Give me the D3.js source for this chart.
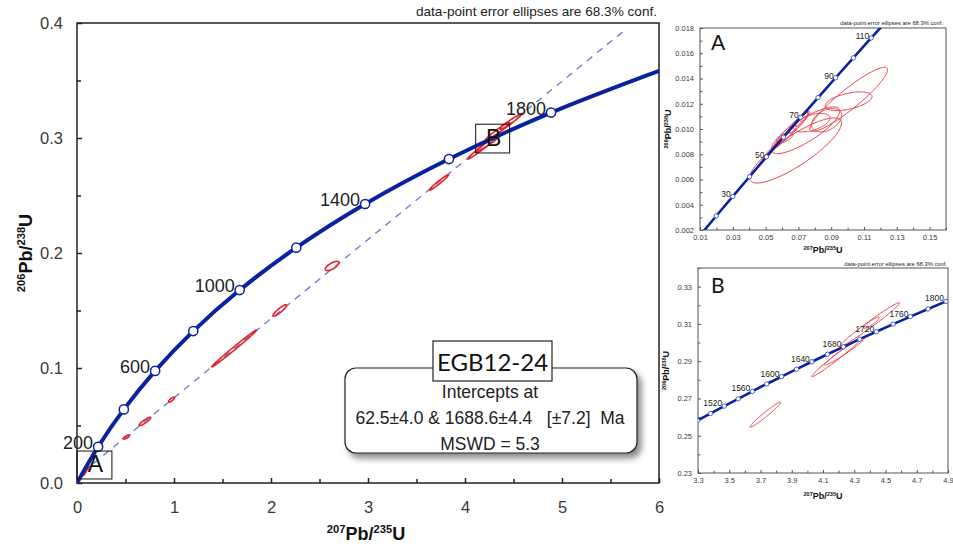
<!DOCTYPE html>
<html>
<head>
<meta charset="utf-8">
<script src="https://cdn.jsdelivr.net/npm/d3@7"></script>
<style>
  body { margin: 0; background: #fff; }
  svg { display: block; font-family: "Liberation Sans", Arial, sans-serif; }
</style>
</head>
<body>
<svg width="953" height="546"></svg>
<script>
// concordia ticks: age (Ma) and the two ratios
var mainAges = [0, 200, 400, 600, 800, 1000, 1200, 1400, 1600, 1800, 2000];
var main75 = [0, 0.2177, 0.4828, 0.8056, 1.1987, 1.6774, 2.2603, 2.9702, 3.8346, 4.8872, 6.1690];
var main68 = [0, 0.0315, 0.0640, 0.0975, 0.1321, 0.1678, 0.2046, 0.2426, 0.2817, 0.3221, 0.3637];
var mainLabelled = [200, 600, 1000, 1400, 1800];

var agesA = [10, 20, 30, 40, 50, 60, 70, 80, 90, 100, 110, 120, 130];
var a75 = [0.0099, 0.0199, 0.0300, 0.0402, 0.0505, 0.0609, 0.0714, 0.0820, 0.0927, 0.1035, 0.1144, 0.1255, 0.1366];
var a68 = [0.00155, 0.00311, 0.00466, 0.00622, 0.00779, 0.00935, 0.01092, 0.01249, 0.01406, 0.01563, 0.01721, 0.01879, 0.02037];
var labelledA = [30, 50, 70, 90, 110];

var agesB = [1460, 1480, 1500, 1520, 1540, 1560, 1580, 1600, 1620, 1640, 1660, 1680, 1700, 1720, 1740, 1760, 1780, 1800, 1820];
var b75 = [3.2111, 3.2955, 3.3810, 3.4681, 3.5570, 3.6477, 3.7401, 3.8346, 3.9306, 4.0287, 4.1287, 4.2307, 4.3348, 4.4409, 4.5491, 4.6595, 4.7721, 4.8872, 5.0040];
var b68 = [0.2542, 0.2581, 0.2620, 0.2659, 0.2698, 0.2738, 0.2778, 0.2817, 0.2857, 0.2897, 0.2937, 0.2977, 0.3018, 0.3058, 0.3099, 0.3139, 0.3180, 0.3221, 0.3262];
var labelledB = [1520, 1560, 1600, 1640, 1680, 1720, 1760, 1800];

// discordia: lower intercept and the far end of the dashed line
var discordia = [[0.0635, 0.0097], [5.65, 0.394]];

// error ellipses: [207/235, 206/238, half-width x, half-width y, rho]
var ellipsesYoung = [
  [0.0683, 0.0083, 0.0280, 0.00258, 0.84],
  [0.1007, 0.01235, 0.0237, 0.00254, 0.92],
  [0.1006, 0.0122, 0.0143, 0.00074, 0.5],
  [0.0872, 0.0107, 0.0092, 0.00093, 0.4],
  [0.0743, 0.0099, 0.0209, 0.00185, 0.82],
  [0.0780, 0.0105, 0.0112, 0.00073, 0.5],
  [0.0616, 0.0093, 0.0050, 0.00040, 0.6],
  [0.066, 0.0100, 0.010, 0.0013, 0.95],
  [0.070, 0.0105, 0.006, 0.0008, 0.9],
  [0.072, 0.0108, 0.004, 0.0006, 0.9],
  [0.062, 0.0094, 0.007, 0.0009, 0.95],
  [0.058, 0.0089, 0.004, 0.0005, 0.9],
  [0.074, 0.0110, 0.003, 0.0004, 0.8],
  [0.052, 0.0081, 0.004, 0.0006, 0.95]
];
var ellipsesMid = [
  [0.51, 0.040, 0.035, 0.0018, 0.8],
  [0.70, 0.0535, 0.06, 0.0037, 0.9],
  [0.975, 0.0725, 0.03, 0.0022, 0.8],
  [1.62, 0.117, 0.23, 0.016, 0.995],
  [2.09, 0.150, 0.07, 0.005, 0.9],
  [2.63, 0.1887, 0.07, 0.004, 0.7]
];
var ellipsesOld = [
  [3.731, 0.2613, 0.098, 0.0067, 0.975],
  [4.188, 0.2922, 0.16, 0.0105, 0.985],
  [4.24, 0.2954, 0.13, 0.0075, 0.975],
  [4.40, 0.3097, 0.19, 0.0117, 0.985],
  [4.41, 0.3106, 0.05, 0.0030, 0.9]
];

var mainXTicks = [0, 1, 2, 3, 4, 5, 6];
var mainYTicks = [0, 0.1, 0.2, 0.3, 0.4];
var aXTicks = [0.01, 0.03, 0.05, 0.07, 0.09, 0.11, 0.13, 0.15];
var aYTicks = [0.002, 0.004, 0.006, 0.008, 0.010, 0.012, 0.014, 0.016, 0.018];
var bXTicks = [3.3, 3.5, 3.7, 3.9, 4.1, 4.3, 4.5, 4.7, 4.9];
var bYTicks = [0.23, 0.25, 0.27, 0.29, 0.31, 0.33];

var sampleName = "EGB12-24";
var resultLines = ["Intercepts at", "62.5\u00b14.0 & 1688.6\u00b14.4   [\u00b17.2]  Ma", "MSWD = 5.3"];
var confNote = "data-point error ellipses are 68.3% conf.";

var svg = d3.select("svg");
var allEllipses = ellipsesYoung.concat(ellipsesMid, ellipsesOld);

var defs = svg.append("defs");
defs.append("filter").attr("id", "shadow")
    .attr("x", "-10%").attr("y", "-20%").attr("width", "130%").attr("height", "160%")
  .append("feDropShadow")
    .attr("dx", 4).attr("dy", 5).attr("stdDeviation", 3)
    .attr("flood-color", "#000").attr("flood-opacity", 0.45);

// outline of a correlated error ellipse
function ellipsePoints(e) {
  var pts = [], k = Math.sqrt(1 - e[4] * e[4]);
  for (var i = 0; i < 120; i++) {
    var t = 2 * Math.PI * i / 120;
    pts.push([e[0] + e[2] * Math.cos(t), e[1] + e[3] * (e[4] * Math.cos(t) + k * Math.sin(t))]);
  }
  return pts;
}

// writes 207Pb/235U style labels with raised mass numbers
function isoLabel(text, a, b, c, d, big, small) {
  var up = Math.round(big * 0.38);
  text.append("tspan").attr("font-size", small).attr("dy", -up).text(a);
  text.append("tspan").attr("font-size", big).attr("dy", up).text(b);
  text.append("tspan").attr("font-size", small).attr("dy", -up).text(c);
  text.append("tspan").attr("font-size", big).attr("dy", up).text(d);
}

function panel(cfg) {
  var x = d3.scaleLinear().domain(cfg.xd).range([cfg.l, cfg.r]),
      y = d3.scaleLinear().domain(cfg.yd).range([cfg.b, cfg.t]);
  var g = svg.append("g");

  defs.append("clipPath").attr("id", cfg.id)
    .append("rect").attr("x", cfg.l).attr("y", cfg.t)
    .attr("width", cfg.r - cfg.l).attr("height", cfg.b - cfg.t);

  // ticks pointing inwards, minor ones too
  g.append("g").attr("transform", "translate(0," + cfg.b + ")")
      .call(d3.axisBottom(x).tickValues(cfg.xt).tickFormat(cfg.xf)
        .tickSizeInner(-cfg.tick).tickSizeOuter(0).tickPadding(cfg.xpad));
  g.append("g").attr("transform", "translate(0," + cfg.b + ")")
      .call(d3.axisBottom(x).tickValues(cfg.xm).tickFormat("")
        .tickSizeInner(-cfg.tick * 0.8).tickSizeOuter(0));
  g.append("g").attr("transform", "translate(" + cfg.l + ",0)")
      .call(d3.axisLeft(y).tickValues(cfg.yt).tickFormat(cfg.yf)
        .tickSizeInner(-cfg.tick).tickSizeOuter(0).tickPadding(cfg.ypad));
  g.append("g").attr("transform", "translate(" + cfg.l + ",0)")
      .call(d3.axisLeft(y).tickValues(cfg.ym).tickFormat("")
        .tickSizeInner(-cfg.tick * 0.8).tickSizeOuter(0));
  g.selectAll(".domain").remove();
  g.selectAll(".tick line").attr("stroke", cfg.frame).attr("stroke-width", cfg.fw);
  g.selectAll(".tick text").attr("font-size", cfg.fs).attr("fill", "#3a3a3a")
      .attr("font-family", "Liberation Sans, Arial, sans-serif");

  g.append("rect").attr("x", cfg.l).attr("y", cfg.t)
    .attr("width", cfg.r - cfg.l).attr("height", cfg.b - cfg.t)
    .attr("fill", "none").attr("stroke", cfg.frame).attr("stroke-width", cfg.fw);

  var plot = g.append("g").attr("clip-path", "url(#" + cfg.id + ")");
  var line = d3.line().x(function(d) { return x(d[0]); }).y(function(d) { return y(d[1]); });

  if (cfg.discordia) {
    plot.append("path").datum(discordia).attr("d", line)
      .attr("fill", "none").attr("stroke", "#6f7fe0").attr("stroke-width", 1.4)
      .attr("stroke-dasharray", "7,6");
  }

  var closed = d3.line().curve(d3.curveLinearClosed)
    .x(function(d) { return x(d[0]); }).y(function(d) { return y(d[1]); });
  plot.selectAll(".ell").data(allEllipses).enter().append("path")
    .attr("d", function(e) { return closed(ellipsePoints(e)); })
    .attr("fill", "none").attr("stroke", cfg.red).attr("stroke-width", cfg.ew);

  var pts = cfg.ages.map(function(a, i) { return [cfg.r75[i], cfg.r68[i], a]; });
  plot.append("path").datum(pts)
    .attr("d", d3.line().curve(d3.curveCatmullRom)
      .x(function(d) { return x(d[0]); }).y(function(d) { return y(d[1]); }))
    .attr("fill", "none").attr("stroke", "#0a22a0").attr("stroke-width", cfg.cw);

  plot.selectAll(".mk").data(pts.filter(function(d) { return d[2] > 0; })).enter().append("circle")
    .attr("cx", function(d) { return x(d[0]); }).attr("cy", function(d) { return y(d[1]); })
    .attr("r", cfg.mr).attr("fill", "#fff").attr("stroke", cfg.mc).attr("stroke-width", cfg.mw);

  g.selectAll(".age").data(pts.filter(function(d) { return cfg.lab.indexOf(d[2]) >= 0; })).enter()
    .append("text")
    .attr("x", function(d) { return x(d[0]) + cfg.ldx; })
    .attr("y", function(d) { return y(d[1]) + cfg.ldy; })
    .attr("text-anchor", "end").attr("font-size", cfg.lfs).attr("fill", "#222")
    .text(function(d) { return d[2]; });

  // conf. note above the frame
  g.append("text").attr("x", cfg.r - cfg.noteIn).attr("y", cfg.t - cfg.noteUp)
    .attr("text-anchor", "end").attr("font-size", cfg.nfs).attr("fill", "#222").text(confNote);

  // axis titles
  var xt = g.append("text").attr("x", (cfg.l + cfg.r) / 2 + cfg.xtdx).attr("y", cfg.xty)
    .attr("text-anchor", "middle").attr("font-weight", "bold").attr("fill", "#111");
  isoLabel(xt, "207", "Pb/", "235", "U", cfg.tfs, cfg.tfs * 0.62);
  var yt = g.append("text")
    .attr("transform", "translate(" + cfg.ytx + "," + ((cfg.t + cfg.b) / 2 + cfg.ytdy) + ") rotate(-90)")
    .attr("text-anchor", "middle").attr("font-weight", "bold").attr("fill", "#111");
  isoLabel(yt, "206", "Pb/", "238", "U", cfg.tfs, cfg.tfs * 0.62);

  return { x: x, y: y, g: g };
}

// main concordia
var main = panel({
  id: "clipMain", l: 77, r: 659, t: 23, b: 483,
  xd: [0, 6], yd: [0, 0.4],
  xt: mainXTicks, xm: [0.5, 1.5, 2.5, 3.5, 4.5, 5.5], xf: d3.format("d"),
  yt: mainYTicks, ym: [0.05, 0.15, 0.25, 0.35], yf: d3.format(".1f"),
  tick: 5, fs: 16.5, xpad: 18, ypad: 14, frame: "#222", fw: 1.5,
  discordia: true, red: "#e3242b", ew: 1.6,
  ages: mainAges, r75: main75, r68: main68, lab: mainLabelled,
  cw: 4, mr: 4.6, mc: "#0a22a0", mw: 1.5,
  ldx: -5, ldy: 2, lfs: 18,
  noteIn: 2, noteUp: 7, nfs: 13.6,
  xtdx: -2, xty: 540, ytx: 32, ytdy: 0, tfs: 18
});

// annotation boxes for the zoomed regions
var boxes = [["A", 0, 0.0035, 0.36, 0.0278], ["B", 4.11, 0.287, 4.46, 0.312]];
boxes.forEach(function(b) {
  var x0 = main.x(b[1]), x1 = main.x(b[3]), y0 = main.y(b[4]), y1 = main.y(b[2]);
  main.g.append("rect").attr("x", x0).attr("y", y0).attr("width", x1 - x0).attr("height", y1 - y0)
    .attr("fill", "none").attr("stroke", "#111").attr("stroke-width", 1);
  main.g.append("text").attr("x", (x0 + x1) / 2 + 1).attr("y", y1 - 7)
    .attr("text-anchor", "middle").attr("font-size", 23).attr("fill", "#111").text(b[0]);
});

// result box with drop shadow
main.g.append("rect").attr("x", 345).attr("y", 368).attr("width", 292).attr("height", 85)
  .attr("rx", 11).attr("fill", "#fff").attr("stroke", "#222").attr("stroke-width", 1.2)
  .attr("filter", "url(#shadow)");
resultLines.forEach(function(s, i) {
  main.g.append("text").attr("x", 490).attr("y", 398 + i * 26)
    .attr("text-anchor", "middle").attr("font-size", 17.5).attr("fill", "#222")
    .style("white-space", "pre").text(s);
});
main.g.append("rect").attr("x", 433).attr("y", 341).attr("width", 119).attr("height", 40)
  .attr("fill", "#fff").attr("stroke", "#222").attr("stroke-width", 1.2);
main.g.append("text").attr("x", 492.5).attr("y", 371).attr("text-anchor", "middle")
  .attr("font-family", "Lato, 'Open Sans', sans-serif").attr("font-size", 24).attr("fill", "#111")
  .text(sampleName);

// inset A: young end
var insetA = panel({
  id: "clipA", l: 700, r: 946, t: 28, b: 230,
  xd: [0.01, 0.16], yd: [0.002, 0.018],
  xt: aXTicks, xm: [0.02, 0.04, 0.06, 0.08, 0.10, 0.12, 0.14, 0.16], xf: d3.format(".2f"),
  yt: aYTicks, ym: [0.003, 0.005, 0.007, 0.009, 0.011, 0.013, 0.015, 0.017], yf: d3.format(".3f"),
  tick: 3, fs: 7.5, xpad: 5, ypad: 6, frame: "#555", fw: 1,
  discordia: false, red: "#e8404b", ew: 1,
  ages: agesA, r75: a75, r68: a68, lab: labelledA,
  cw: 2.6, mr: 2.2, mc: "#3a55c8", mw: 0.9,
  ldx: -2, ldy: 1, lfs: 8.5,
  noteIn: 3, noteUp: 3, nfs: 5.8,
  xtdx: 0, xty: 253, ytx: 671, ytdy: 0, tfs: 9
});
insetA.g.append("text").attr("x", 711).attr("y", 50).attr("font-family", "Lato, 'Open Sans', sans-serif")
  .attr("font-size", 21).attr("fill", "#111").text("A");

// inset B: old end
var insetB = panel({
  id: "clipB", l: 698, r: 948, t: 268, b: 473,
  xd: [3.3, 4.9], yd: [0.23, 0.34],
  xt: bXTicks, xm: [3.4, 3.6, 3.8, 4.0, 4.2, 4.4, 4.6, 4.8], xf: d3.format(".1f"),
  yt: bYTicks, ym: [0.24, 0.26, 0.28, 0.30, 0.32, 0.34], yf: d3.format(".2f"),
  tick: 3, fs: 7.5, xpad: 5, ypad: 6, frame: "#555", fw: 1,
  discordia: false, red: "#e8404b", ew: 1,
  ages: agesB, r75: b75, r68: b68, lab: labelledB,
  cw: 2.6, mr: 2.2, mc: "#3a55c8", mw: 0.9,
  ldx: -2, ldy: 0, lfs: 8.5,
  noteIn: 1, noteUp: 2, nfs: 5.8,
  xtdx: 0, xty: 499, ytx: 669, ytdy: 0, tfs: 9
});
insetB.g.append("text").attr("x", 711).attr("y", 293).attr("font-family", "Lato, 'Open Sans', sans-serif")
  .attr("font-size", 21).attr("fill", "#111").text("B");
</script>
</body>
</html>
